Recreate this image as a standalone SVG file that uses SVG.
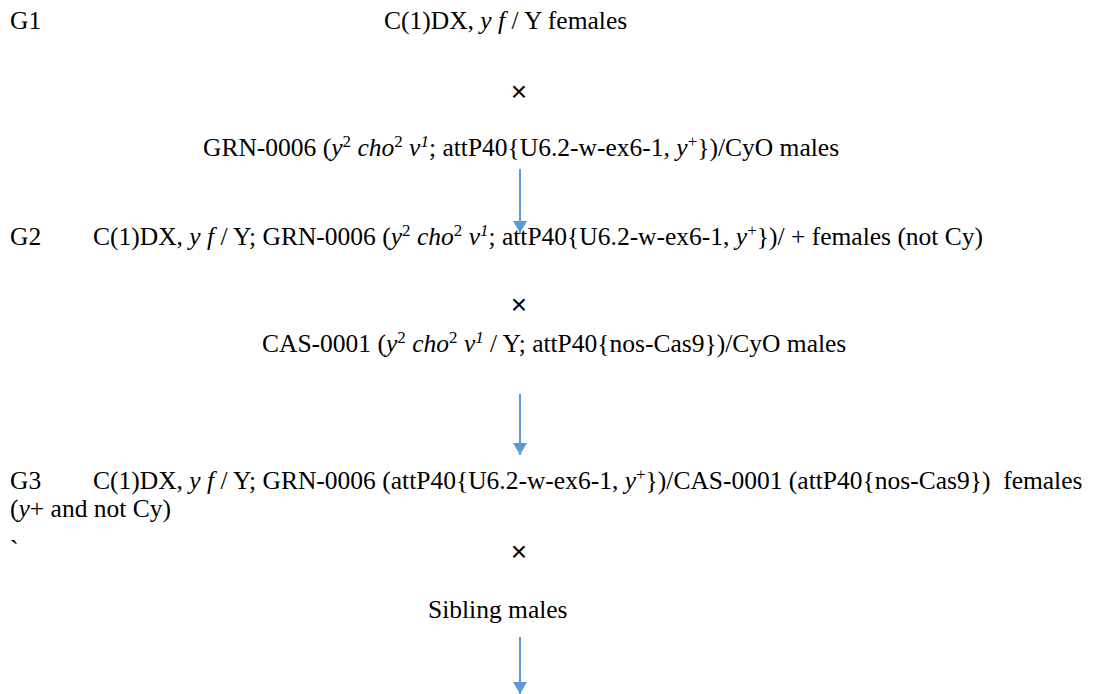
<svg xmlns="http://www.w3.org/2000/svg" width="1098" height="694" viewBox="0 0 1098 694">
  <style>
    text { font-family: "Liberation Serif", "Times New Roman", serif; font-size: 25.5px; fill: #000; white-space: pre; }
    .i { font-style: italic; }
    .sup { font-size: 17px; }
    .cross { font-family: "Liberation Sans", Arial, sans-serif; font-size: 28px; text-anchor: middle; }
    .arrow { stroke: #5B9BD5; stroke-width: 2; fill: none; }
  </style>
  <defs>
    <marker id="head" viewBox="0 0 12 14" refX="12" refY="7" markerWidth="12" markerHeight="14" markerUnits="userSpaceOnUse" orient="auto">
      <path d="M0,0 L12,7 L0,14 Z" fill="#5B9BD5"/>
    </marker>
  </defs>

  <!-- generation 1 -->
  <g id="g1-label"><text x="10" y="29">G1</text></g>
  <g id="g1-female"><text x="384" y="29">C(1)DX, <tspan class="i">y f</tspan> / Y females</text></g>
  <g id="cross1"><text class="cross" x="519" y="101">×</text></g>
  <g id="g1-male"><text x="203" y="156">GRN-0006 (<tspan class="i">y</tspan><tspan class="sup" dy="-9">2</tspan><tspan dy="9"> </tspan><tspan class="i">cho</tspan><tspan class="sup" dy="-9">2</tspan><tspan dy="9"> </tspan><tspan class="i">v</tspan><tspan class="sup i" dy="-9">1</tspan><tspan dy="9">; attP40{U6.2-w-ex6-1, </tspan><tspan class="i">y</tspan><tspan class="sup" dy="-9">+</tspan><tspan dy="9">})/CyO males</tspan></text></g>

  <!-- generation 2 -->
  <g id="g2-label"><text x="10" y="245">G2</text></g>
  <g id="g2-female"><text x="93" y="245">C(1)DX, <tspan class="i">y f</tspan> / Y; GRN-0006 (<tspan class="i">y</tspan><tspan class="sup" dy="-9">2</tspan><tspan dy="9"> </tspan><tspan class="i">cho</tspan><tspan class="sup" dy="-9">2</tspan><tspan dy="9"> </tspan><tspan class="i">v</tspan><tspan class="sup i" dy="-9">1</tspan><tspan dy="9">; attP40{U6.2-w-ex6-1, </tspan><tspan class="i">y</tspan><tspan class="sup" dy="-9">+</tspan><tspan dy="9">})/ + females (not Cy)</tspan></text></g>
  <g id="cross2"><text class="cross" x="519" y="314">×</text></g>
  <g id="g2-male"><text x="262" y="352">CAS-0001 (<tspan class="i">y</tspan><tspan class="sup" dy="-9">2</tspan><tspan dy="9"> </tspan><tspan class="i">cho</tspan><tspan class="sup" dy="-9">2</tspan><tspan dy="9"> </tspan><tspan class="i">v</tspan><tspan class="sup i" dy="-9">1</tspan><tspan dy="9"> / Y; attP40{nos-Cas9})/CyO males</tspan></text></g>

  <!-- generation 3 -->
  <g id="g3-label"><text x="10" y="489">G3</text></g>
  <g id="g3-female">
    <text x="93" y="489">C(1)DX, <tspan class="i">y f</tspan> / Y; GRN-0006 (attP40{U6.2-w-ex6-1, <tspan class="i">y</tspan><tspan class="sup" dy="-9">+</tspan><tspan dy="9">})/CAS-0001 (attP40{nos-Cas9})  females</tspan></text>
    <text x="10" y="517">(<tspan class="i">y</tspan>+ and not Cy)</text>
  </g>
  <g id="tick"><text x="10" y="558">`</text></g>
  <g id="cross3"><text class="cross" x="519" y="561">×</text></g>
  <g id="g3-male"><text x="428" y="618">Sibling males</text></g>

  <!-- crossing arrows -->
  <g id="connectors">
    <line class="arrow" x1="520" y1="169" x2="520" y2="233" marker-end="url(#head)"/>
    <line class="arrow" x1="520" y1="394" x2="520" y2="455" marker-end="url(#head)"/>
    <line class="arrow" x1="520" y1="637" x2="520" y2="694" marker-end="url(#head)"/>
  </g>
</svg>
